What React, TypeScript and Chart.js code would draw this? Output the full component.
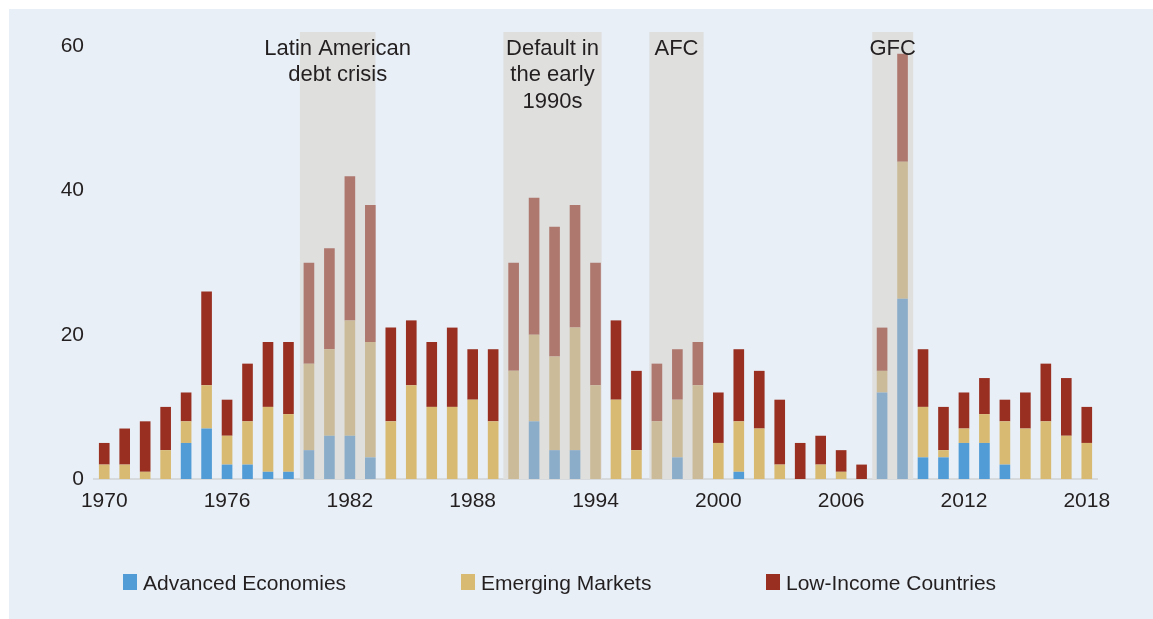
import { useEffect, useRef } from "react";
import { Chart, registerables } from "chart.js";

Chart.register(...registerables);

// ---------- data ----------
const YEARS = [
  "1970", "1971", "1972", "1973", "1974", "1975", "1976", "1977", "1978", "1979",
  "1980", "1981", "1982", "1983", "1984", "1985", "1986", "1987", "1988", "1989",
  "1990", "1991", "1992", "1993", "1994", "1995", "1996", "1997", "1998", "1999",
  "2000", "2001", "2002", "2003", "2004", "2005", "2006", "2007", "2008", "2009",
  "2010", "2011", "2012", "2013", "2014", "2015", "2016", "2017", "2018",
];
const TICK_YEARS = ["1970", "1976", "1982", "1988", "1994", "2000", "2006", "2012", "2018"];
const Y_TICKS = [0, 20, 40, 60];

const ADVANCED = [
  0, 0, 0, 0, 5, 7, 2, 2, 1, 1,
  4, 6, 6, 3, 0, 0, 0, 0, 0, 0,
  0, 8, 4, 4, 0, 0, 0, 0, 3, 0,
  0, 1, 0, 0, 0, 0, 0, 0, 12, 25,
  3, 3, 5, 5, 2, 0, 0, 0, 0,
];
const EMERGING = [
  2, 2, 1, 4, 3, 6, 4, 6, 9, 8,
  12, 12, 16, 16, 8, 13, 10, 10, 11, 8,
  15, 12, 13, 17, 13, 11, 4, 8, 8, 13,
  5, 7, 7, 2, 0, 2, 1, 0, 3, 19,
  7, 1, 2, 4, 6, 7, 8, 6, 5,
];
const LOW_INCOME = [
  3, 5, 7, 6, 4, 13, 5, 8, 9, 10,
  14, 14, 20, 19, 13, 9, 9, 11, 7, 10,
  15, 19, 18, 17, 17, 11, 11, 8, 7, 6,
  7, 10, 8, 9, 5, 4, 3, 2, 6, 15,
  8, 6, 5, 5, 3, 5, 8, 8, 5,
];
const SERIES_NAMES = ["Advanced Economies", "Emerging Markets", "Low-Income Countries"];

const CRISIS_FROM = ["1980", "1990", "1997", "2008"];
const CRISIS_TO = ["1983", "1994", "1999", "2009"];
const CRISIS_LABELS = [
  ["Latin American", "debt crisis"],
  ["Default in", "the early", "1990s"],
  ["AFC"],
  ["GFC"],
];

// ---------- styles ----------
const FONT = "'Liberation Sans', Arial, Helvetica, sans-serif";
const TEXT = "#231f20";
const PANEL = "#e8eff6";
const SHADE = "#dfdfde";
const COLORS = ["#519bd6", "#d8ba72", "#982f21"];
const MUTED = ["#8badc9", "#cbbb99", "#ae786f"];
// shade edges, in category widths relative to first/last bar centres
const SHADE_PAD = [
  [-0.44, 0.25],
  [-0.5, 0.3],
  [-0.37, 0.28],
  [-0.48, 0.52],
];
const LEGEND_X = [114, 452, 757];

const inCrisis = (y: string) =>
  CRISIS_FROM.some((f, k) => +y >= +f && +y <= +CRISIS_TO[k]);

const crisisPlugin = {
  id: "crisisShade",
  beforeDatasetsDraw(chart: any) {
    const { ctx, chartArea, scales } = chart;
    const x = scales.x;
    const catW = x.width / YEARS.length;
    ctx.save();
    ctx.fillStyle = SHADE;
    CRISIS_FROM.forEach((from, k) => {
      const i0 = YEARS.indexOf(from);
      const i1 = YEARS.indexOf(CRISIS_TO[k]);
      const left = x.getPixelForValue(i0) + SHADE_PAD[k][0] * catW;
      const right = x.getPixelForValue(i1) + SHADE_PAD[k][1] * catW;
      ctx.fillRect(left, chartArea.top, right - left, chartArea.bottom - chartArea.top);
    });
    ctx.restore();
  },
  afterDraw(chart: any) {
    const { ctx, scales } = chart;
    const x = scales.x;
    const catW = x.width / YEARS.length;
    ctx.save();
    ctx.font = `22px ${FONT}`;
    ctx.fillStyle = TEXT;
    ctx.textAlign = "center";
    ctx.textBaseline = "middle";
    CRISIS_FROM.forEach((from, k) => {
      const i0 = YEARS.indexOf(from);
      const i1 = YEARS.indexOf(CRISIS_TO[k]);
      const left = x.getPixelForValue(i0) + SHADE_PAD[k][0] * catW;
      const right = x.getPixelForValue(i1) + SHADE_PAD[k][1] * catW;
      const cx = (left + right) / 2;
      CRISIS_LABELS[k].forEach((line, j) => {
        ctx.fillText(line, cx, 39.5 + j * 26.5);
      });
    });
    // legend
    ctx.font = `21px ${FONT}`;
    ctx.textAlign = "left";
    SERIES_NAMES.forEach((name, k) => {
      ctx.fillStyle = COLORS[k];
      ctx.fillRect(LEGEND_X[k], 565, 14, 16);
      ctx.fillStyle = TEXT;
      ctx.fillText(name, LEGEND_X[k] + 20, 575);
    });
    ctx.restore();
  },
};

export default function App() {
  const ref = useRef<HTMLCanvasElement>(null);

  useEffect(() => {
    if (!ref.current) return;
    const series = [ADVANCED, EMERGING, LOW_INCOME];
    const chart = new Chart(ref.current, {
      type: "bar",
      data: {
        labels: YEARS,
        datasets: series.map((values, k) => ({
          label: SERIES_NAMES[k],
          data: values,
          backgroundColor: YEARS.map((y) => (inCrisis(y) ? MUTED[k] : COLORS[k])),
          borderWidth: 0,
          barPercentage: 0.52,
          categoryPercentage: 1,
        })),
      },
      options: {
        responsive: false,
        maintainAspectRatio: false,
        animation: false,
        events: [],
        layout: { padding: { left: 0, right: 56, top: 23, bottom: 90 } },
        plugins: {
          legend: { display: false },
          tooltip: { enabled: false },
          title: { display: false },
        },
        scales: {
          x: {
            stacked: true,
            offset: true,
            z: 1,
            grid: { display: false, drawTicks: false },
            border: { display: true, color: "#d6dadd", width: 2 },
            ticks: {
              autoSkip: false,
              maxRotation: 0,
              padding: 10,
              color: TEXT,
              font: { family: FONT, size: 21 },
              callback: (_v: any, i: number) =>
                TICK_YEARS.includes(YEARS[i]) ? YEARS[i] : "",
            },
            afterFit: (s: any) => {
              s.height = 50;
            },
          },
          y: {
            stacked: true,
            min: 0,
            max: 62,
            grid: { display: false, drawTicks: false },
            border: { display: false },
            ticks: {
              padding: 10,
              color: TEXT,
              font: { family: FONT, size: 21 },
            },
            afterBuildTicks: (s: any) => {
              s.ticks = Y_TICKS.map((v) => ({ value: v }));
            },
            afterFit: (s: any) => {
              s.width = 85;
            },
          },
        },
      },
      plugins: [crisisPlugin],
    });
    return () => chart.destroy();
  }, []);

  return (
    <div
      style={{
        position: "fixed",
        left: 9,
        top: 9,
        width: 1144,
        height: 610,
        background: PANEL,
      }}
    >
      <canvas ref={ref} width={1144} height={610} style={{ display: "block" }} />
    </div>
  );
}
